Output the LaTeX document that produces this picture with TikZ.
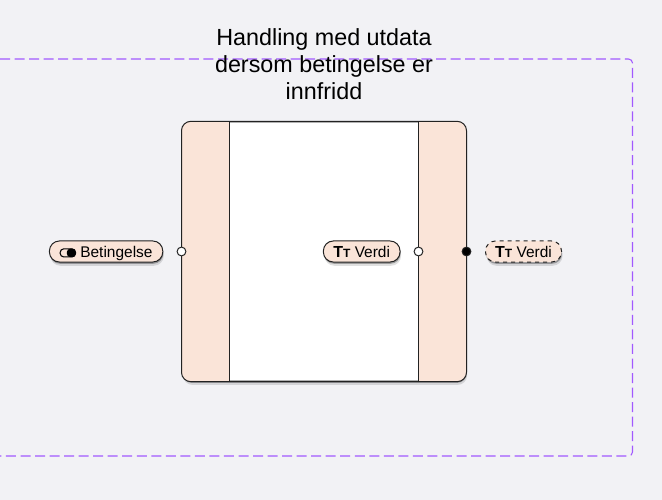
\documentclass[tikz,border=0pt]{standalone}
\usepackage{fontspec}
\setmainfont{Liberation Sans}
\usepackage{xcolor}
\usetikzlibrary{arrows.meta,positioning,calc,shadows}
\definecolor{softpeach}{RGB}{250,228,216}
\definecolor{softgrey}{RGB}{242,242,245}
\definecolor{softpurple}{RGB}{162,89,255}
\definecolor{darkline}{RGB}{34,34,34}
\newcommand{\toggleicon}{\tikz[baseline=-3.1pt,x=1pt,y=1pt]{\draw[line width=0.8pt,rounded corners=2.6pt] (0,-3) rectangle (11.5,3);\fill[rounded corners=2.6pt] (5,-3.2) rectangle (11.7,3.2);}}
\newcommand{\texticon}{{\bfseries\fontsize{12}{12}\selectfont T\fontsize{9}{9}\selectfont T}}
\begin{document}
\begin{tikzpicture}[x=0.75pt,y=-0.75pt]
\tikzstyle{softshade}=[general shadow={fill=black,opacity=0.12,shadow xshift=0.8pt,shadow yshift=-2.8pt},general shadow={fill=black,opacity=0.3,shadow xshift=0.4pt,shadow yshift=-1.3pt}]
\tikzstyle{blockbox}=[softshade,draw=darkline,fill=white,line width=0.75pt,rounded corners=7pt,minimum width=213pt,minimum height=194.5pt,inner sep=0pt]
\tikzstyle{pill}=[softshade,draw=darkline,fill=softpeach,line width=0.75pt,rounded corners=7.5pt,minimum height=15.8pt,inner sep=0pt,text height=8.3pt,text depth=0pt,font=\fontsize{11.6}{13}\selectfont]
\tikzstyle{port}=[circle,draw=darkline,fill=white,line width=0.75pt,minimum size=6.6pt,inner sep=0pt]
\useasboundingbox (0,0) rectangle (662,500);
\fill[softgrey] (0,0) rectangle (662,500);
% dashed frame, open to the left
\coordinate (frameTL) at (0,59);
\coordinate (frameTR) at (632.5,59);
\coordinate (frameBR) at (632.5,456);
\coordinate (frameBL) at (0,456);
\draw[softpurple,line width=0.8pt,dash pattern=on 7.5pt off 3.4pt,rounded corners=3pt] (frameTL) -- (frameTR) -- (frameBR) -- (frameBL);
% block with side bands
\node[blockbox] (block) at (324,251.5) {};
\begin{scope}
\clip[rounded corners=7pt] (block.north west) rectangle (block.south east);
\fill[softpeach] (block.north west) rectangle (229.5,381);
\fill[softpeach] (418.5,122) rectangle (block.south east);
\end{scope}
\draw[darkline,line width=0.75pt,rounded corners=7pt] (block.north west) rectangle (block.south east);
\coordinate (bandL) at (229.5,251.5);
\coordinate (bandR) at (418.5,251.5);
\draw[darkline,line width=0.75pt] (bandL |- block.north) -- (bandL |- block.south);
\draw[darkline,line width=0.75pt] (bandR |- block.north) -- (bandR |- block.south);
% title
\node[align=center,font=\fontsize{17.5}{20.3}\selectfont] (title) at (324,64) {Handling med utdata\\dersom betingelse er\\innfridd};
% ports
\node[port] (inCond) at (block.west) {};
\node[port] (inValue) at (bandR) {};
\node[port,fill=black] (outValue) at (block.east) {};
% pills
\node[pill,minimum width=85pt,left=10pt of inCond] (condPill) {\toggleicon\hspace{3.2pt}Betingelse};
\node[pill,minimum width=57.5pt,left=9.8pt of inValue] (valuePill) {\texticon\hspace{3.2pt}Verdi};
\node[pill,dashed,minimum width=57pt,right=10.2pt of outValue] (outPill) {\texticon\hspace{3.2pt}Verdi};
\end{tikzpicture}
\end{document}
